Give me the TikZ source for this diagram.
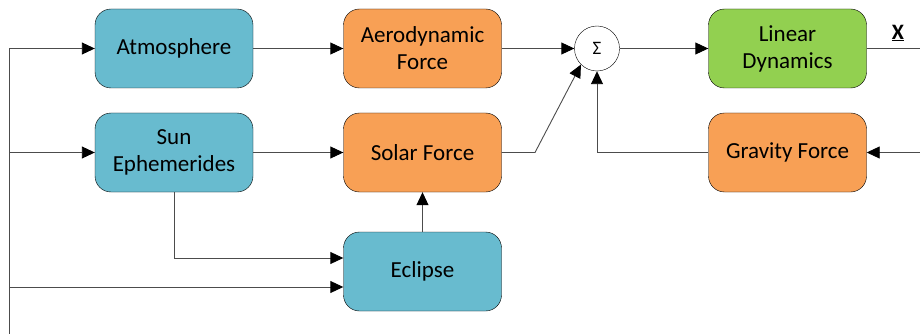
\documentclass[tikz,border=0pt]{standalone}
\usepackage{fontspec}
\setmainfont{Carlito}
\usetikzlibrary{arrows.meta}
\definecolor{blockBlue}{HTML}{68BBCF}
\definecolor{blockOrange}{HTML}{F8A055}
\definecolor{blockGreen}{HTML}{92D050}
\begin{document}
\begin{tikzpicture}[
    x=1pt, y=-1pt,
    block/.style={
        rectangle, rounded corners=16pt, draw=black, thin,
        minimum width=158pt, minimum height=79pt,
        align=center, font=\fontsize{23}{27}\selectfont
    },
    envBlock/.style={block, fill=blockBlue},
    forceBlock/.style={block, fill=blockOrange},
    dynBlock/.style={block, fill=blockGreen},
    sumNode/.style={circle, draw=black, thin, fill=white, minimum size=45pt, inner sep=0pt},
    link/.style={draw=black!70, line width=0.9pt},
    feed/.style={link, -{Triangle[length=13pt,width=12pt,color=black]}}
]
    \useasboundingbox (0,0) rectangle (920,334);

    % --- 1. Environment models ---
    \node[envBlock] (atmos) at (174, 48.5) {Atmosphere};
    \node[envBlock] (sunEph) at (174, 152.5) {Sun\\Ephemerides};
    \node[envBlock] (eclipse) at (422.5, 271.5) {Eclipse};

    % --- 2. Forces ---
    \node[forceBlock] (aero) at (422.5, 48.5) {Aerodynamic\\Force};
    \node[forceBlock] (solar) at (422.5, 152.5) {Solar Force};
    \node[forceBlock] (gravity) at (787.5, 152.5) {Gravity Force};

    % --- 3. Sum and dynamics ---
    \node[sumNode] (sum) at (597, 48.5) {\fontsize{19}{19}\selectfont Σ};
    \node[dynBlock] (linDyn) at (787.5, 48.5) {Linear\\Dynamics};
    \coordinate (stateOut) at (920, 48.5);
    \node[font=\fontsize{22}{22}\selectfont\bfseries] (stateLbl) at (898, 33) {\underline{X}};

    % --- 4. State bus on the left ---
    \coordinate (busTop) at (9, 48.5);
    \coordinate (busBot) at (9, 334);
    \coordinate (busSun) at (9, 152.5);
    \coordinate (busEcl) at (9, 287);
    \coordinate (sunTurn) at (174, 258);
    \coordinate (solarKnee) at (535, 152.5);
    \coordinate (gravIn) at (920, 152.5);

    \draw[link] (busTop) -- (busBot);
    \draw[feed] (busTop) -- (atmos.west);
    \draw[feed] (busSun) -- (sunEph.west);
    \draw[feed] (busEcl) -- (busEcl -| eclipse.west);

    % --- 5. Connections ---
    \draw[feed] (atmos.east) -- (aero.west);
    \draw[feed] (sunEph.east) -- (solar.west);
    \draw[feed] (sunEph.south) -- (sunTurn) -- (sunTurn -| eclipse.west);
    \draw[feed] (eclipse.north) -- (solar.south);
    \draw[feed] (aero.east) -- (sum.west);
    \draw[feed] (solar.east) -- (solarKnee) -- (sum.225);
    \draw[feed] (gravity.west) -| (sum.south);
    \draw[feed] (sum.east) -- (linDyn.west);
    \draw[link] (linDyn.east) -- (stateOut);
    \draw[feed] (gravIn) -- (gravity.east);
\end{tikzpicture}
\end{document}
